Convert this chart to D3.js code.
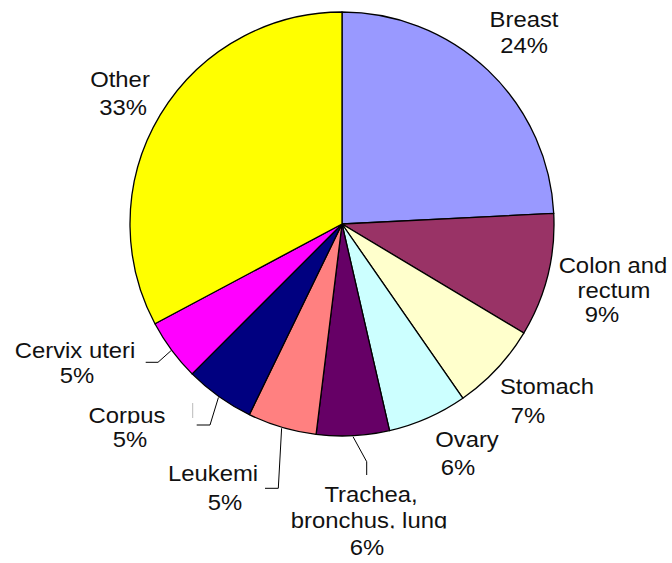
<!DOCTYPE html>
<html lang="en">
<head>
<meta charset="utf-8">
<title>Cancer sites pie</title>
<script src="https://d3js.org/d3.v7.min.js"></script>
<style>
  body { margin: 0; background: white; }
  text { font-family: 'Liberation Sans', Arial, sans-serif; fill: #111; }
</style>
</head>
<body>
<div class="chart"></div>
<script>
// data (share of slice, in percent)
const categories = ["Breast", "Colon and rectum", "Stomach", "Ovary", "Trachea, bronchus, lung",
                    "Leukemi", "Corpus", "Cervix uteri", "Other"];
const values = [24.2, 9.4, 6.75, 6.05, 5.55, 5.25, 5.3, 4.7, 32.8];
const pctLabels = ["24%", "9%", "7%", "6%", "6%", "5%", "5%", "5%", "33%"];
const colors = ["#9999ff", "#993366", "#ffffcc", "#ccffff", "#660066",
                "#ff8080", "#000080", "#ff00ff", "#ffff00"];

// label layout: text lines with centre x and baseline y
const labelLayout = [
  { lines: [["Breast", 524, 27], ["24%", 524, 53]] },
  { lines: [["Colon and", 613, 273], ["rectum", 614, 298], ["9%", 602, 322]] },
  { lines: [["Stomach", 547, 394], ["7%", 528, 423]] },
  { lines: [["Ovary", 467, 447], ["6%", 458, 475]] },
  { lines: [["Trachea,", 371, 502], ["bronchus, lung", 369, 528, true], ["6%", 367, 555]] },
  { lines: [["Leukemi", 213, 481], ["5%", 225, 510]] },
  { lines: [["Corpus", 127, 423, true], ["5%", 130, 447]] },
  { lines: [["Cervix uteri", 75, 358, true], ["5%", 77, 383]] },
  { lines: [["Other", 120, 87], ["33%", 123, 115]] }
];
// leader lines: elbow points after the start on the rim
const leaders = {
  4: [[366.7, 461.7], [366.7, 475]],
  5: [[278.3, 488.3], [265, 488.3]],
  6: [[210, 425], [196.7, 425]],
  7: [[158, 362.3], [145.7, 362.3]]
};

const width = 672, height = 563;
const cx = 342, cy = 224, radius = 212;

const svg = d3.select(".chart").append("svg")
  .attr("width", width).attr("height", height)
  .style("display", "block");

const pie = d3.pie().sort(null).value(d => d)(values);
const arc = d3.arc().innerRadius(0).outerRadius(radius);

const g = svg.append("g").attr("transform", `translate(${cx},${cy})`);
g.selectAll("path.slice")
  .data(pie)
  .join("path")
  .attr("class", "slice")
  .attr("d", arc)
  .attr("fill", (d, i) => colors[i])
  .attr("stroke", "#000")
  .attr("stroke-width", 1.3)
  .attr("stroke-linejoin", "round");

// leader lines from the rim at each slice's middle angle
Object.keys(leaders).forEach(k => {
  const d = pie[+k];
  const a = (d.startAngle + d.endAngle) / 2;
  const start = [cx + (radius + 1) * Math.sin(a), cy - (radius + 1) * Math.cos(a)];
  svg.append("path")
    .attr("d", d3.line()([start, ...leaders[k]]))
    .attr("fill", "none")
    .attr("stroke", "#000")
    .attr("stroke-width", 1);
});
// small grey mark left of the corpus leader
svg.append("line")
  .attr("x1", 192.7).attr("x2", 192.7).attr("y1", 403).attr("y2", 418)
  .attr("stroke", "#bbb").attr("stroke-width", 1);

// labels; some are clipped at the baseline as in the original
const defs = svg.append("defs");
labelLayout.forEach((lab, i) => {
  lab.lines.forEach(([txt, x, y, clip], j) => {
    const wrap = svg.append("g");
    wrap.append("text")
      .attr("transform", `translate(${x},${y}) scale(1.06,1)`)
      .attr("text-anchor", "middle")
      .style("font-size", "22.5px")
      .text(txt);
    if (clip) {
      const id = `clip-${i}-${j}`;
      defs.append("clipPath").attr("id", id)
        .append("rect").attr("x", 0).attr("y", y - 40).attr("width", width).attr("height", 40.5);
      wrap.attr("clip-path", `url(#${id})`);
    }
  });
});
</script>
</body>
</html>
